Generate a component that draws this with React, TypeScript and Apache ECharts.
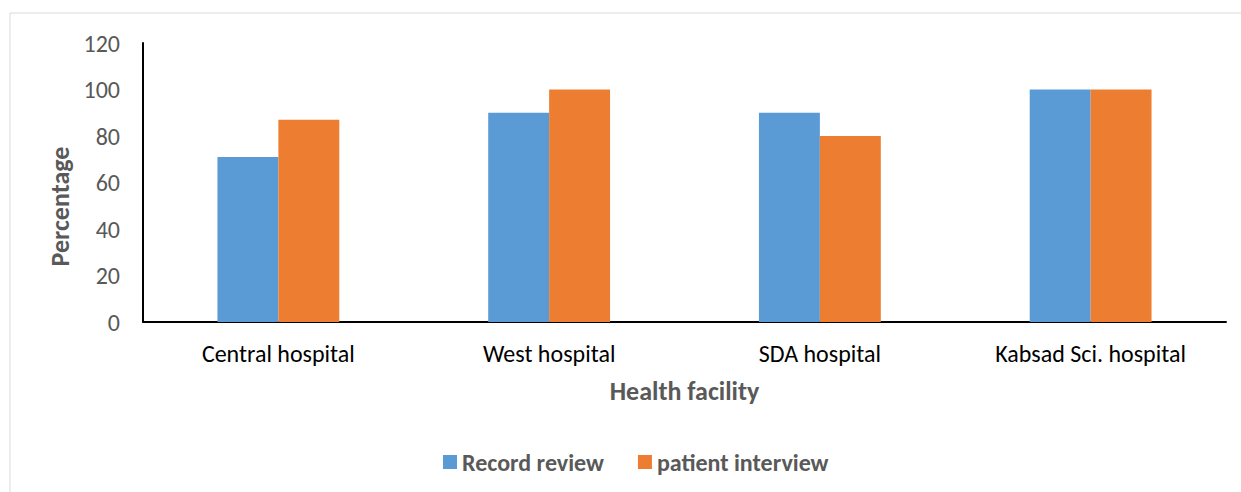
import React, { useEffect, useRef } from "react";
import * as echarts from "echarts";

const categories = ["Central hospital", "West hospital", "SDA hospital", "Kabsad Sci. hospital"];
const recordReview = [71, 90, 90, 100];
const patientInterview = [87, 100, 80, 100];
const yTicks = [0, 20, 40, 60, 80, 100, 120];

const FONT = "Carlito, Lato, 'Open Sans', sans-serif";

export default function App() {
  const ref = useRef<HTMLDivElement>(null);
  useEffect(() => {
    if (!ref.current) return;
    const chart = echarts.init(ref.current, undefined, { renderer: "svg" });
    chart.setOption({
      animation: false,
      textStyle: { fontFamily: FONT },
      graphic: [
        {
          type: "rect",
          shape: { x: 10, y: 13, width: 1240, height: 490 },
          style: { fill: "none", stroke: "#d9d9d9", lineWidth: 1 },
          silent: true,
        },
      ],
      grid: { left: 143, right: 15, top: 43, bottom: 170 },
      legend: {
        left: 443,
        top: 450,
        padding: 0,
        itemWidth: 14,
        itemHeight: 14,
        itemGap: 34,
        icon: "rect",
        textStyle: { fontFamily: FONT, fontSize: 24, fontWeight: "bold", color: "#595959" },
        data: ["Record review", "patient interview"],
      },
      xAxis: {
        type: "category",
        data: categories,
        name: "Health facility",
        nameLocation: "middle",
        nameGap: 56,
        nameTextStyle: { fontFamily: FONT, fontSize: 26, fontWeight: "bold", color: "#595959" },
        axisLine: { lineStyle: { color: "#000", width: 2 } },
        axisTick: { show: false },
        axisLabel: { fontFamily: FONT, fontSize: 24, color: "#000", margin: 19 },
      },
      yAxis: {
        type: "value",
        min: yTicks[0],
        max: yTicks[yTicks.length - 1],
        interval: 20,
        name: "Percentage",
        nameLocation: "middle",
        nameRotate: 90,
        nameGap: 68,
        nameTextStyle: {
          fontFamily: FONT,
          fontSize: 26,
          fontWeight: "bold",
          color: "#595959",
          padding: [0, 48, 0, 0],
        },
        axisLine: { show: true, lineStyle: { color: "#000", width: 2 } },
        axisTick: { show: false },
        splitLine: { show: false },
        axisLabel: { fontFamily: FONT, fontSize: 24, color: "#595959", margin: 23 },
      },
      series: [
        {
          name: "Record review",
          type: "bar",
          data: recordReview,
          itemStyle: { color: "#5b9bd5" },
          barGap: "0%",
          barCategoryGap: "55%",
        },
        {
          name: "patient interview",
          type: "bar",
          data: patientInterview,
          itemStyle: { color: "#ed7d31" },
          barGap: "0%",
          barCategoryGap: "55%",
        },
      ],
    });
    return () => chart.dispose();
  }, []);
  return (
    <div
      ref={ref}
      style={{ position: "absolute", left: 0, top: 0, width: 1241, height: 492, background: "#fff" }}
    />
  );
}
